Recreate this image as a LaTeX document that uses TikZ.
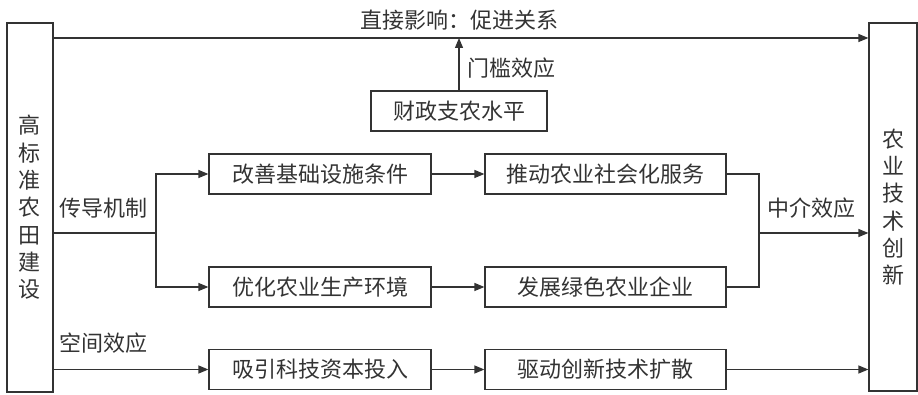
\documentclass[tikz,border=0pt]{standalone}
\usepackage{fontspec}
\setmainfont{Noto Sans CJK SC}
\usetikzlibrary{arrows.meta}
\definecolor{ink}{HTML}{333333}
\begin{document}
\begin{tikzpicture}[x=1pt,y=-1pt,
  font=\fontsize{22}{27.3}\selectfont,
  every node/.style={text=ink},
  line width=1.2pt,
  box/.style={draw=ink, line width=1.2pt, minimum height=40pt, inner sep=0pt},
  arr/.style={draw=ink, -{Triangle[length=10pt,width=8pt]}},
  ln/.style={draw=ink}]
\useasboundingbox (0,0) rectangle (918,395);
% side boxes
\node[box, minimum width=46pt, minimum height=369pt, align=center] (L) at (30,207.5) {高\\标\\准\\农\\田\\建\\设};
\node[box, minimum width=48pt, minimum height=368pt, align=center] (R) at (893,207) {农\\业\\技\\术\\创\\新};
% inner boxes
\node[box, minimum width=176pt] (T) at (459,111) {财政支农水平};
\node[box, minimum width=222pt] (A1) at (320,174) {改善基础设施条件};
\node[box, minimum width=222pt] (A2) at (320,287) {优化农业生产环境};
\node[box, minimum width=222pt] (A3) at (320,369.5) {吸引科技资本投入};
\node[box, minimum width=241pt] (B1) at (605.5,174) {推动农业社会化服务};
\node[box, minimum width=241pt] (B2) at (605.5,287) {发展绿色农业企业};
\node[box, minimum width=241pt] (B3) at (605.5,369.5) {驱动创新技术扩散};
% labels
\node (top) at (459,20) {直接影响：促进关系};
\node[anchor=west] (thr) at (464,68) {门槛效应};
\node (cd) at (103.5,208) {传导机制};
\node (sp) at (103.5,343) {空间效应};
\node (md) at (811.5,208) {中介效应};
% coordinates
\coordinate (tl) at (459,38);
\coordinate (b) at (156,233);
\coordinate (m) at (759,233);
% connectors
\draw[arr] (L.east |- tl) -- (R.west |- tl);
\draw[arr] (T.north) -- (tl);
\draw[ln] (L.east |- b) -- (b);
\draw[arr] (b) |- (A1.west);
\draw[arr] (b) |- (A2.west);
\draw[arr] (L.east |- A3.west) -- (A3.west);
\draw[arr] (A1.east) -- (B1.west);
\draw[arr] (A2.east) -- (B2.west);
\draw[arr] (A3.east) -- (B3.west);
\draw[ln] (B1.east) -| (m);
\draw[ln] (B2.east) -| (m);
\draw[arr] (m) -- (R.west |- m);
\draw[arr] (B3.east) -- (R.west |- B3.east);
\end{tikzpicture}
\end{document}
